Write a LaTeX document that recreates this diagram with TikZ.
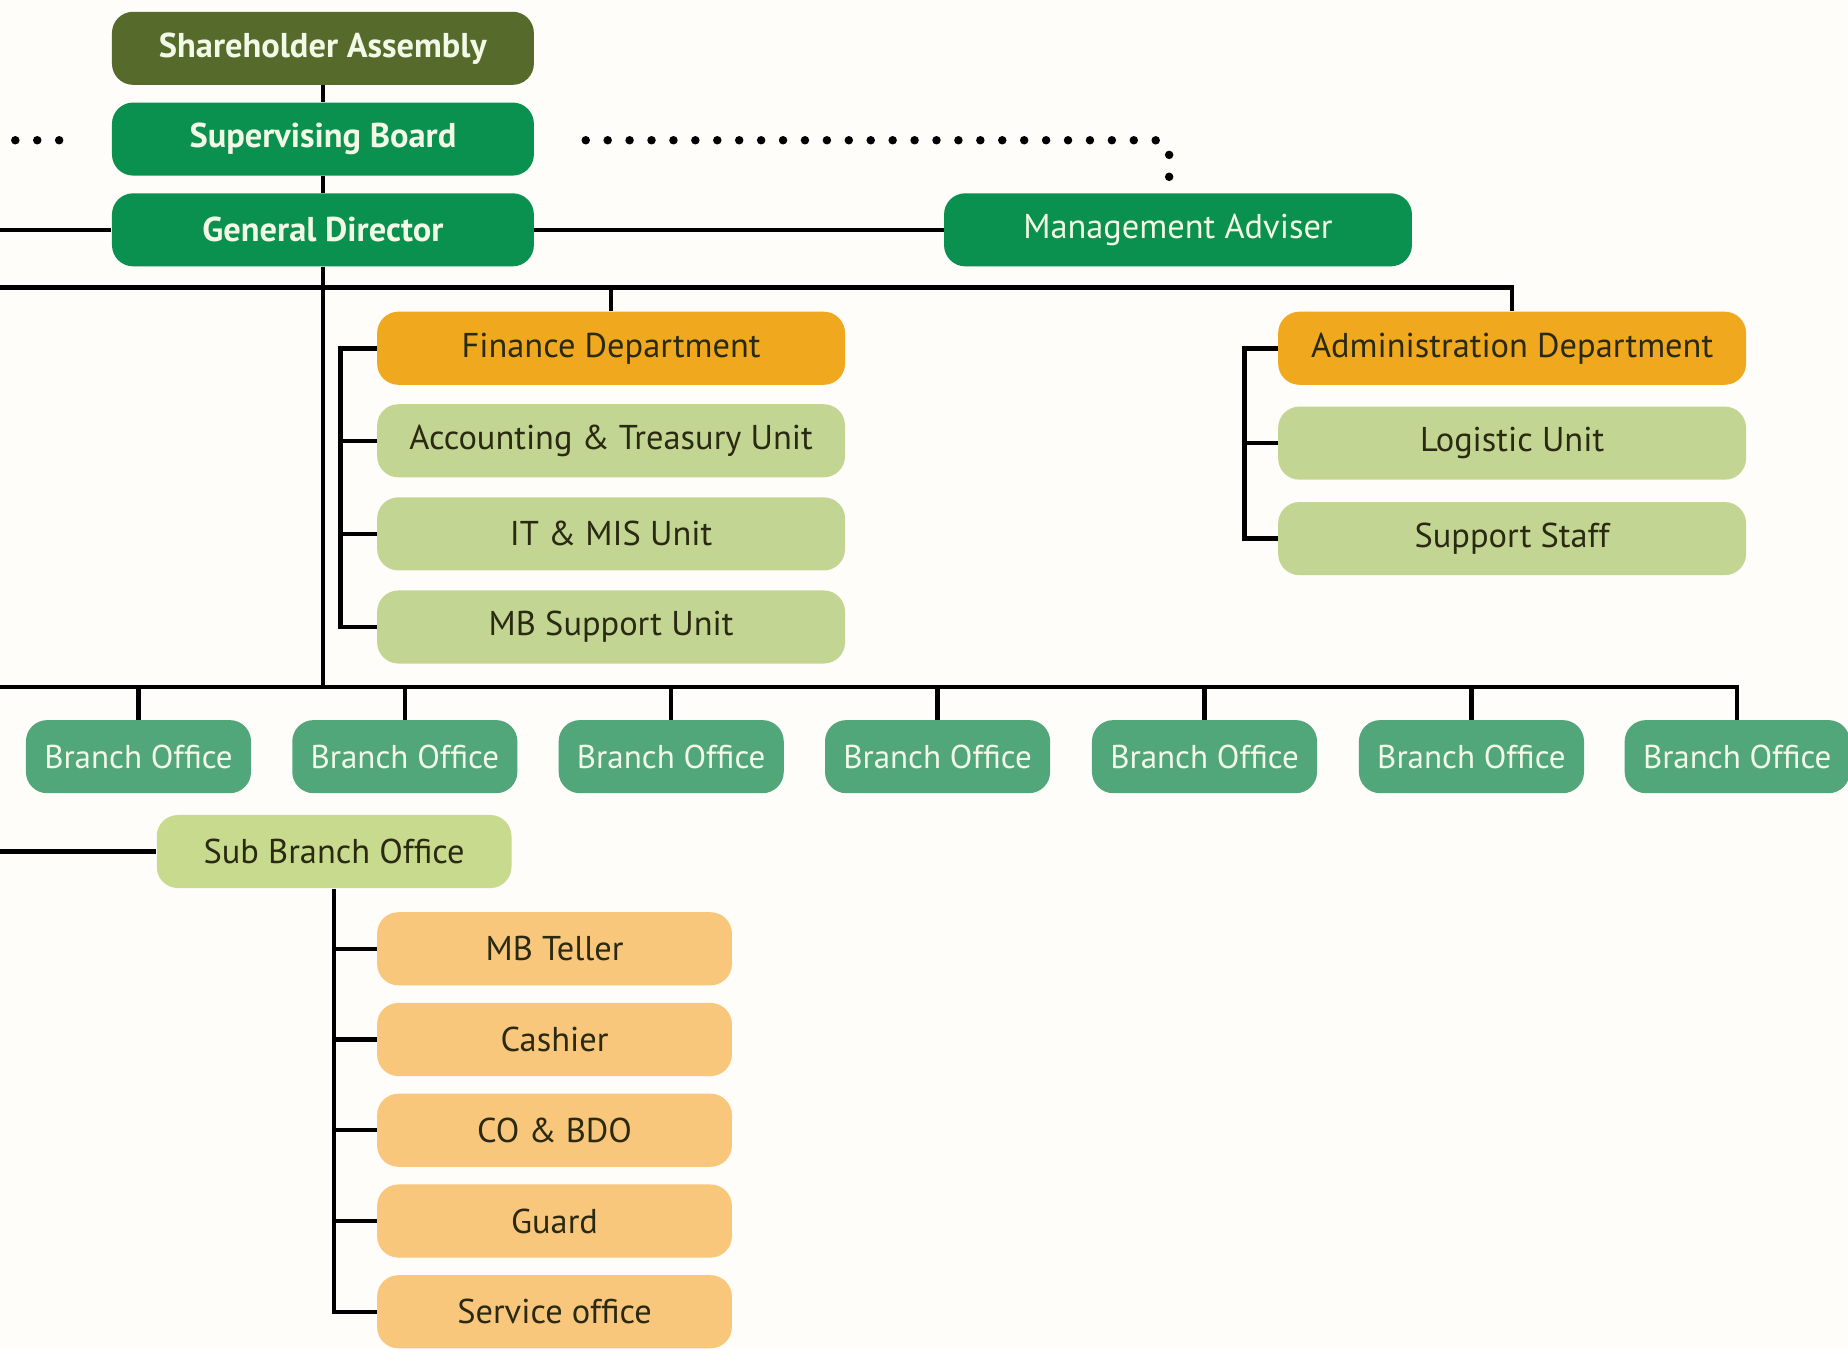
\documentclass[tikz,border=0pt]{standalone}
\usepackage{fontspec}
\setmainfont{PT Sans}
\definecolor{bgc}{HTML}{FEFDF9}
\definecolor{olive}{HTML}{566B2B}
\definecolor{dgreen}{HTML}{0A914F}
\definecolor{mgreen}{HTML}{52A77A}
\definecolor{lgreen}{HTML}{C3D592}
\definecolor{sgreen}{HTML}{C8DA8D}
\definecolor{orng}{HTML}{F0A81E}
\definecolor{lorng}{HTML}{F8C77B}
\definecolor{lighttxt}{HTML}{F2F9E6}
\definecolor{darktxt}{HTML}{2A2A12}
\tikzset{
  box/.style={rectangle, rounded corners=9pt, inner sep=0pt, minimum height=31pt,
    font=\fontsize{14.6}{16}\selectfont, align=center},
  topbox/.style={box, fill=dgreen, text=lighttxt, minimum width=179pt, font=\fontsize{14.6}{16}\selectfont\bfseries},
  shbox/.style={topbox, fill=olive},
  mabox/.style={box, fill=dgreen, text=lighttxt, minimum width=198.5pt},
  deptbox/.style={box, fill=orng, text=darktxt, minimum width=198.5pt},
  unitbox/.style={box, fill=lgreen, text=darktxt, minimum width=198.5pt},
  brbox/.style={box, fill=mgreen, text=lighttxt, minimum width=95.5pt, font=\fontsize{14}{16}\selectfont},
  subbox/.style={box, fill=sgreen, text=darktxt, minimum width=150.5pt},
  staffbox/.style={box, fill=lorng, text=darktxt, minimum width=150.5pt},
  link/.style={draw=black, line width=1.9pt},
  dotline/.style={draw=black, line width=3.6pt, line cap=round, dash pattern=on 0pt off 9.3pt}
}
\begin{document}
\begin{tikzpicture}[x=0.5pt,y=-0.5pt]
\fill[bgc] (0,0) rectangle (1568,1144);
\useasboundingbox (0,0) rectangle (1568,1144);

% top
\node[shbox] (sa) at (274,41) {Shareholder Assembly};
\node[topbox] (sb) at (274,118) {Supervising Board};
\node[topbox] (gd) at (274,195) {General Director};
\node[mabox] (ma) at (999.5,195) {Management Adviser};

% departments
\node[deptbox] (fd) at (518.5,295.5) {Finance Department};
\node[unitbox] (acc) at (518.5,374) {Accounting \& Treasury Unit};
\node[unitbox] (it) at (518.5,453) {IT \& MIS Unit};
\node[unitbox] (ms) at (518.5,532) {MB Support Unit};

\node[deptbox] (ad) at (1283,295.5) {Administration Department};
\node[unitbox] (lu) at (1283,376) {Logistic Unit};
\node[unitbox] (ss) at (1283,457) {Support Staff};

% branches
\node[brbox] (bo1) at (117.5,642) {Branch Office};
\node[brbox] (bo2) at (343.5,642) {Branch Office};
\node[brbox] (bo3) at (569.5,642) {Branch Office};
\node[brbox] (bo4) at (795.5,642) {Branch Office};
\node[brbox] (bo5) at (1022,642) {Branch Office};
\node[brbox] (bo6) at (1248.5,642) {Branch Office};
\node[brbox] (bo7) at (1474,642) {Branch Office};

\node[subbox] (sbo) at (283.5,722.5) {Sub Branch Office};
\node[staffbox] (mt) at (470.5,805) {MB Teller};
\node[staffbox] (ca) at (470.5,882) {Cashier};
\node[staffbox] (co) at (470.5,959) {CO \& BDO};
\node[staffbox] (gu) at (470.5,1036) {Guard};
\node[staffbox] (so) at (470.5,1113) {Service office};

% coordinates
\coordinate (gdL) at (0,195);
\coordinate (busA) at (0,244);
\coordinate (trunkEnd) at (274,583);
\coordinate (busB) at (0,583);
\coordinate (fbr) at (289,295.5);
\coordinate (abr) at (1056,295.5);
\coordinate (sbL) at (0,722.5);
\coordinate (dotL1) at (13,119);
\coordinate (dotL2) at (52,119);
\coordinate (dotA) at (497,119);
\coordinate (dotB) at (992,119);

% connectors top
\draw[link] (sa.south) -- (sb.north);
\draw[link] (sb.south) -- (gd.north);
\draw[link] (gdL) -- (gd.west);
\draw[link] (gd.east) -- (ma.west);
\draw[link] (gd.south) -- (trunkEnd);
\draw[link] (busA) -- (busA -| ad.north) -- (ad.north);
\draw[link] (busA -| fd.north) -- (fd.north);

% finance bracket
\draw[link] (fd.west) -- (fbr) |- (ms.west);
\draw[link] (fbr |- acc.west) -- (acc.west);
\draw[link] (fbr |- it.west) -- (it.west);

% admin bracket
\draw[link] (ad.west) -- (abr) |- (ss.west);
\draw[link] (abr |- lu.west) -- (lu.west);

% branch bus
\draw[link] (busB) -- (busB -| bo7.north) -- (bo7.north);
\foreach \b in {bo1,bo2,bo3,bo4,bo5,bo6}{
  \draw[link] (busB -| \b.north) -- (\b.north);
}

% sub branch
\draw[link] (sbL) -- (sbo.west);
\draw[link] (sbo.south) |- (so.west);
\foreach \s in {mt,ca,co,gu}{
  \draw[link] (sbo.south |- \s.west) -- (\s.west);
}

% dotted lines
\draw[dotline] (dotL1) -- (dotL2);
\draw[dotline, rounded corners=6pt] (dotA) -- (dotB) -- (dotB |- ma.north);
\end{tikzpicture}
\end{document}
